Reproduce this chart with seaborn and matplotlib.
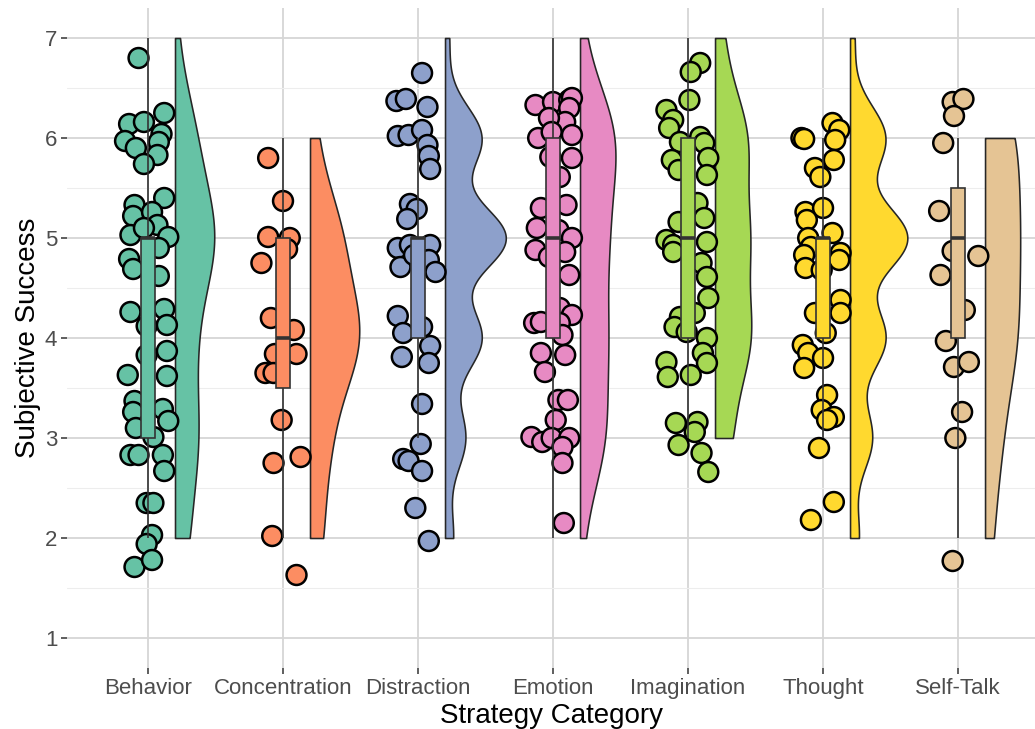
import numpy as np
import pandas as pd
import matplotlib
matplotlib.use("Agg")
import matplotlib.pyplot as plt
from matplotlib.ticker import MultipleLocator
import seaborn as sns

# ---------------------------------------------------------------- data
categories = ["Behavior", "Concentration", "Distraction", "Emotion",
              "Imagination", "Thought", "Self-Talk"]
palette = ["#66C2A5", "#FC8D62", "#8DA0CB", "#E78AC3",
           "#A6D854", "#FFD92F", "#E5C494"]

# number of responses at each rating level (2..7) per strategy category
rating_levels = [2, 3, 4, 5, 6, 7]
behavior_counts = [6, 10, 8, 18, 9, 1]
concentration_counts = [2, 3, 8, 5, 1, 0]
distraction_counts = [2, 5, 9, 15, 9, 1]
emotion_counts = [1, 9, 9, 9, 13, 1]
imagination_counts = [0, 6, 13, 12, 12, 3]
thought_counts = [2, 5, 8, 13, 8, 1]
selftalk_counts = [1, 2, 4, 4, 4, 0]

# jittered individual responses: horizontal offset from the category and plotted height
behavior_dx = [-0.07, 0.12, -0.14, -0.03, 0.10, -0.17, -0.09, 0.08, 0.07, -0.03,
               -0.10, 0.12, -0.11, 0.03, 0.07, -0.13, 0.15, -0.03, -0.14, -0.11, 0.08, 0.08,
               -0.13, 0.12, -0.01, 0.14, -0.01, 0.14, -0.15, 0.14,
               -0.10, -0.11, 0.11, 0.15, -0.09, 0.04, -0.13, -0.07, 0.11, 0.12,
               -0.01, 0.04, 0.03, -0.01, -0.10, 0.03]
behavior_y = [6.80, 6.25, 6.14, 6.16, 6.04, 5.97, 5.90, 5.96, 5.83, 5.74,
              5.33, 5.40, 5.22, 5.26, 5.13, 5.03, 5.01, 5.10, 4.79, 4.69, 4.90, 4.62,
              4.26, 4.29, 4.12, 4.13, 3.83, 3.87, 3.63, 3.62,
              3.37, 3.26, 3.29, 3.17, 3.10, 3.01, 2.83, 2.83, 2.83, 2.67,
              2.35, 2.35, 2.03, 1.94, 1.71, 1.78]

concentration_dx = [-0.11, 0.00, -0.11, 0.05, 0.03, -0.16, -0.09, 0.08, -0.01, 0.10,
                    -0.06, -0.13, -0.07, -0.01, -0.07, 0.13, -0.08, 0.10]
concentration_y = [5.80, 5.37, 5.01, 5.00, 4.89, 4.75, 4.20, 4.08, 3.85, 3.84,
                   3.84, 3.65, 3.65, 3.18, 2.75, 2.81, 2.02, 1.63]

distraction_dx = [0.03, -0.16, -0.09, 0.07, -0.15, -0.07, 0.03, 0.07, 0.08, 0.09,
                  -0.06, -0.01, -0.08, -0.15, -0.06, 0.09, -0.13, -0.03, 0.08, 0.13,
                  -0.15, -0.11, 0.03, 0.09, -0.12, 0.08,
                  0.03, 0.02, -0.11, -0.07, 0.03, -0.02, 0.08]
distraction_y = [6.65, 6.37, 6.39, 6.31, 6.02, 6.03, 6.08, 5.93, 5.82, 5.69,
                 5.34, 5.29, 5.19, 4.90, 4.93, 4.93, 4.71, 4.83, 4.78, 4.66,
                 4.22, 4.05, 4.11, 3.92, 3.81, 3.75,
                 3.34, 2.94, 2.79, 2.77, 2.67, 2.30, 1.97]

emotion_dx = [-0.13, 0.00, 0.12, 0.14, 0.12, 0.09, -0.03, -0.11, 0.14, -0.01, -0.02, 0.14, 0.05,
              -0.09, 0.10, -0.12, 0.04, 0.14, -0.13, -0.03, 0.09, 0.12,
              0.05, -0.14, -0.09, 0.14, 0.05, 0.07, -0.09, 0.09, -0.06,
              0.04, 0.11, 0.02, -0.16, -0.08, -0.01, 0.12, 0.07, 0.07,
              0.08]
emotion_y = [6.33, 6.36, 6.38, 6.40, 6.30, 6.16, 6.20, 6.00, 6.03, 6.06, 5.81, 5.80, 5.61,
             5.30, 5.33, 5.10, 5.08, 5.00, 4.88, 4.81, 4.86, 4.63,
             4.30, 4.15, 4.16, 4.23, 4.15, 4.03, 3.85, 3.83, 3.66,
             3.38, 3.38, 3.18, 3.01, 2.96, 3.00, 3.00, 2.91, 2.75,
             2.15]

imagination_dx = [0.09, 0.02, 0.01, -0.16, -0.11, -0.14, -0.06, 0.09, 0.12, -0.12, 0.15, -0.07, 0.14,
                  0.07, 0.12, -0.07, -0.16, -0.11, 0.14, -0.11, 0.10, 0.14,
                  0.15, -0.06, -0.10, -0.01, 0.05, 0.14, 0.11, 0.14, -0.16, -0.15, 0.02,
                  -0.09, 0.07, 0.05, -0.07, 0.10, 0.15]
imagination_y = [6.75, 6.66, 6.38, 6.28, 6.18, 6.10, 5.96, 6.01, 5.95, 5.78, 5.80, 5.68, 5.63,
                 5.35, 5.20, 5.16, 4.98, 4.93, 4.96, 4.86, 4.75, 4.61,
                 4.40, 4.21, 4.11, 4.06, 4.25, 4.00, 3.85, 3.75, 3.76, 3.61, 3.63,
                 3.15, 3.16, 3.06, 2.93, 2.85, 2.66]

thought_dx = [0.07, 0.12, -0.16, -0.14, 0.09, 0.08, -0.06, -0.02,
              -0.13, 0.00, -0.12, 0.07, -0.11, -0.09, -0.14, 0.13, 0.12, -0.13, -0.01,
              0.13, -0.06, 0.13, 0.02, -0.15, -0.11, -0.14, 0.00,
              0.03, -0.01, 0.08, 0.03, -0.03, 0.08, -0.09]
thought_y = [6.15, 6.08, 6.00, 5.99, 5.98, 5.78, 5.70, 5.61,
             5.26, 5.30, 5.18, 5.05, 5.00, 4.91, 4.83, 4.85, 4.78, 4.70, 4.68,
             4.38, 4.25, 4.25, 4.05, 3.93, 3.85, 3.70, 3.80,
             3.43, 3.28, 3.21, 3.18, 2.90, 2.36, 2.18]

selftalk_dx = [-0.04, 0.04, -0.03, -0.11, -0.14, -0.04, 0.15, -0.13, 0.05, -0.09,
               -0.03, 0.08, 0.03, -0.02, -0.04]
selftalk_y = [6.36, 6.39, 6.22, 5.95, 5.27, 4.87, 4.82, 4.63, 4.28, 3.97,
              3.71, 3.76, 3.26, 3.00, 1.77]

# ---------------------------------------------------------------- tables
counts_by_cat = [behavior_counts, concentration_counts, distraction_counts, emotion_counts,
                 imagination_counts, thought_counts, selftalk_counts]
dx_by_cat = [behavior_dx, concentration_dx, distraction_dx, emotion_dx,
             imagination_dx, thought_dx, selftalk_dx]
y_by_cat = [behavior_y, concentration_y, distraction_y, emotion_y,
            imagination_y, thought_y, selftalk_y]

ratings = pd.DataFrame(
    [(cat, lvl) for cat, cnts in zip(categories, counts_by_cat)
     for lvl, n in zip(rating_levels, cnts) for _ in range(n)],
    columns=["category", "rating"],
)
points = pd.DataFrame(
    [(cat, i + dx, y) for i, (cat, dxs, ys) in enumerate(zip(categories, dx_by_cat, y_by_cat))
     for dx, y in zip(dxs, ys)],
    columns=["category", "xpos", "y"],
)


def nrd0(kde):
    """Silverman's rule of thumb (R's bw.nrd0) expressed as a gaussian_kde factor."""
    x = np.asarray(kde.dataset).ravel()
    sd = x.std(ddof=1)
    q1, q3 = np.percentile(x, [25, 75])
    lo = min(sd, (q3 - q1) / 1.34)
    if lo <= 0:
        lo = sd if sd > 0 else 1.0
    return 0.9 * lo * len(x) ** -0.2 / sd


# ---------------------------------------------------------------- style
sns.set_style("whitegrid")
plt.rcParams["font.family"] = ["Liberation Sans", "DejaVu Sans"]

fig = plt.figure(figsize=(10.35, 7.29), dpi=100)
ax = fig.add_axes([67 / 1035, 61 / 729, 968 / 1035, 660 / 729])

# half violins ("clouds"), shifted to the right of each category
sns.violinplot(data=ratings, x="category", y="rating", hue="category",
               order=categories, hue_order=categories, palette=palette,
               saturation=1, inner=None, cut=0, gridsize=512, bw_method=nrd0,
               density_norm="area", common_norm=True, width=0.9,
               linewidth=1.15, linecolor="#262626", legend=False, ax=ax)
for coll in ax.collections:
    new_verts = []
    for p in coll.get_paths():
        v = p.vertices.copy()
        centre = np.round((v[:, 0].min() + v[:, 0].max()) / 2)
        v[:, 0] = np.maximum(v[:, 0], centre) + 0.2
        new_verts.append(v)
    coll.set_verts(new_verts)
    coll.set_zorder(1)

# jittered raw responses ("rain")
sns.scatterplot(data=points, x="xpos", y="y", hue="category", hue_order=categories,
                palette=palette, s=205, edgecolor="black", linewidth=1.8,
                legend=False, ax=ax, zorder=3)

# narrow boxplots on top
sns.boxplot(data=ratings, x="category", y="rating", hue="category",
            order=categories, hue_order=categories, palette=palette,
            saturation=1, width=0.1, showfliers=False, showcaps=False,
            linewidth=1.2, linecolor="#333333", legend=False, ax=ax,
            boxprops=dict(zorder=4), whiskerprops=dict(zorder=4),
            medianprops=dict(linewidth=2.6, zorder=5))

# ---------------------------------------------------------------- axes
ax.set_xlim(-0.6, 6.57)
ax.set_ylim(0.7, 7.3)
ax.set_xticks(range(len(categories)))
ax.set_xticklabels(categories)
ax.set_yticks(range(1, 8))
ax.yaxis.set_minor_locator(MultipleLocator(0.5))
ax.grid(False)
ax.grid(which="major", axis="both", color="#D6D6D6", linewidth=1.3)
ax.grid(which="minor", axis="y", color="#EDEDED", linewidth=0.8)
ax.set_axisbelow(True)
for s in ax.spines.values():
    s.set_visible(False)
ax.tick_params(axis="both", which="major", length=4, width=1.1, color="#333333",
               labelcolor="#4D4D4D", labelsize=16, pad=3, bottom=True, left=True)
ax.tick_params(which="minor", length=0)
ax.set_xlabel("Strategy Category", fontsize=20, color="black", labelpad=3)
ax.set_ylabel("Subjective Success", fontsize=20, color="black", labelpad=3)

fig.savefig("out.png", dpi=100)
